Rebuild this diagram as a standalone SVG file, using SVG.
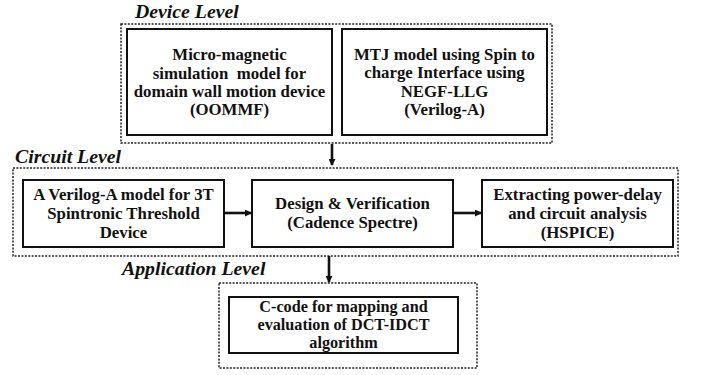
<svg xmlns="http://www.w3.org/2000/svg" width="701" height="375" viewBox="0 0 701 375">
<style>
.bg{fill:#fff}
.grp{fill:none;stroke:#222;stroke-width:1.5;stroke-dasharray:2 1.4}
.box{fill:#fff;stroke:#111;stroke-width:2}
.t{font-family:"Liberation Serif",serif;font-weight:bold;font-size:16.8px;fill:#111;text-anchor:middle}
.s{font-size:16.2px}
.lvl{font-family:"Liberation Serif",serif;font-weight:bold;font-style:italic;font-size:19.8px;fill:#111}
.conn{stroke:#111;stroke-width:2.6;fill:none;marker-end:url(#ah)}
</style>
<defs>
<marker id="ah" markerWidth="7" markerHeight="7" refX="6" refY="3.5" orient="auto" markerUnits="userSpaceOnUse" viewBox="0 0 7 7">
<path d="M0,0 L7,3.5 L0,7 Z" fill="#111"/>
</marker>
</defs>
<rect class="bg" x="0" y="0" width="701" height="375"/>

<g id="device-level">
<rect class="grp" x="121" y="24" width="431" height="119"/>
<text class="lvl" x="135" y="18">Device Level</text>
</g>
<g id="node-oommf">
<rect class="box" x="127" y="29" width="205" height="106"/>
<text class="t" x="229.5" y="60">Micro-magnetic</text>
<text class="t" x="229.5" y="79" xml:space="preserve">simulation  model for</text>
<text class="t" x="229.5" y="97">domain wall motion device</text>
<text class="t" x="229.5" y="115">(OOMMF)</text>
</g>
<g id="node-mtj">
<rect class="box" x="342" y="29" width="205" height="106"/>
<text class="t" x="444.5" y="60">MTJ model using Spin to</text>
<text class="t" x="444.5" y="78">charge Interface using</text>
<text class="t" x="444.5" y="97">NEGF-LLG</text>
<text class="t" x="444.5" y="115">(Verilog-A)</text>
</g>

<g id="circuit-level">
<rect class="grp" x="13" y="168" width="665" height="88"/>
<text class="lvl" x="15" y="163">Circuit Level</text>
</g>
<g id="node-verilog">
<rect class="box" x="23" y="180" width="201" height="67"/>
<text class="t" x="123.5" y="200">A Verilog-A model for 3T</text>
<text class="t" x="123.5" y="219">Spintronic Threshold</text>
<text class="t" x="123.5" y="238">Device</text>
</g>
<g id="node-design">
<rect class="box" x="252" y="180" width="201" height="67"/>
<text class="t" x="352.5" y="209">Design &amp; Verification</text>
<text class="t" x="352.5" y="228">(Cadence Spectre)</text>
</g>
<g id="node-extract">
<rect class="box" x="482" y="180" width="191" height="67"/>
<text class="t" x="577.5" y="200">Extracting power-delay</text>
<text class="t" x="577.5" y="219">and circuit analysis</text>
<text class="t" x="577.5" y="238">(HSPICE)</text>
</g>

<g id="application-level">
<rect class="grp" x="219" y="283" width="258" height="85"/>
<text class="lvl" x="122" y="275">Application Level</text>
</g>
<g id="node-ccode">
<rect class="box" x="229" y="297" width="229" height="56"/>
<text class="t s" x="343.5" y="312">C-code for mapping and</text>
<text class="t s" x="343.5" y="330">evaluation of DCT-IDCT</text>
<text class="t s" x="343.5" y="348">algorithm</text>
</g>

<g id="connectors">
<line class="conn" x1="332" y1="144" x2="332" y2="165"/>
<line class="conn" x1="224" y1="213" x2="251" y2="213"/>
<line class="conn" x1="453" y1="213" x2="481" y2="213"/>
<line class="conn" x1="329" y1="256" x2="329" y2="282"/>
</g>
</svg>
